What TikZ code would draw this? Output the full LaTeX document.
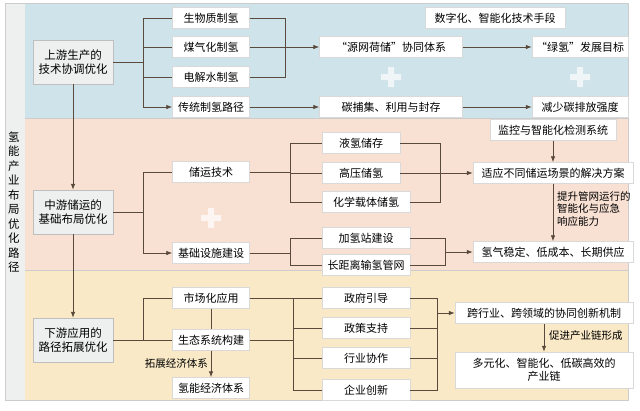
\documentclass[tikz,border=0pt]{standalone}
\usepackage{fontspec}
\setmainfont{Noto Sans CJK SC}
\usetikzlibrary{arrows.meta}
\definecolor{bandblue}{HTML}{CFE3EA}
\definecolor{bandpeach}{HTML}{F8E0D3}
\definecolor{bandyellow}{HTML}{F9E9C6}
\definecolor{leftgray}{HTML}{EEF0F0}
\definecolor{linebrown}{HTML}{5A4A3C}
\tikzset{
  box/.style={draw=white!85!black, fill=white, minimum height=21pt, inner sep=2pt, font=\fontsize{11}{13}\selectfont, align=center},
  main/.style={draw=gray!50, fill=leftgray, minimum width=80pt, minimum height=44pt, align=center, font=\fontsize{11.5}{14}\selectfont},
  ln/.style={draw=linebrown, thick},
  arr/.style={draw=linebrown, thick, -{Latex[length=6pt]}},
  lbl/.style={font=\fontsize{10.5}{12.5}\selectfont, align=left, inner sep=1pt}
}
\newcommand{\plus}[2]{\fill[white, opacity=0.7] (#1-10,#2-3) rectangle (#1+10,#2+3) (#1-3,#2-10) rectangle (#1+3,#2+10);}
\begin{document}
\begin{tikzpicture}[x=1pt, y=-1pt]
  \useasboundingbox (0,0) rectangle (640,410);
  % background bands
  \fill[white] (0,0) rectangle (640,410);
  \fill[leftgray] (5,3) rectangle (25,400);
  \fill[bandblue] (25,3) rectangle (628,118);
  \fill[bandpeach] (25,118) rectangle (628,270);
  \fill[bandyellow] (25,270) rectangle (628,400);
  \draw[gray!40] (5,3) rectangle (628,400);
  \draw[gray!40] (25,118) -- (628,118) (25,270) -- (628,270);
  \node[font=\fontsize{11.5}{14.5}\selectfont, align=center] (title) at (14,202) {氢\\能\\产\\业\\布\\局\\优\\化\\路\\径};

  % main stages
  \node[main] (up) at (73,62) {上游生产的\\技术协调优化};
  \node[main] (mid) at (73,212) {中游储运的\\基础布局优化};
  \node[main] (down) at (73,340) {下游应用的\\路径拓展优化};
  \path[arr] (up) -- (mid);
  \path[arr] (mid) -- (down);

  % upstream
  \node[box, minimum width=77pt] (bio) at (211,18) {生物质制氢};
  \node[box, minimum width=77pt] (coal) at (211,47) {煤气化制氢};
  \node[box, minimum width=77pt] (elec) at (211,77) {电解水制氢};
  \node[box, minimum width=77pt] (trad) at (211,107) {传统制氢路径};
  \node[box, minimum width=143pt] (grid) at (391,47) {“源网荷储”协同体系};
  \node[box, minimum width=143pt] (ccus) at (391,107) {碳捕集、利用与封存};
  \node[box, minimum width=140pt] (digi) at (495,18) {数字化、智能化技术手段};
  \node[box, minimum width=96pt] (green) at (580,47) {“绿氢”发展目标};
  \node[box, minimum width=96pt] (carb) at (580,107) {减少碳排放强度};
  \plus{391}{77}
  \plus{580}{77}
  \coordinate (ub) at (143,62);
  \path[ln] (up) -- (ub);
  \path[ln] (143,18) -- (143,107);
  \path[ln] (143,18) -- (bio) (143,47) -- (coal) (143,77) -- (elec);
  \path[arr] (143,107) -- (trad);
  \path[ln] (bio) -- (285,18) -- (285,77) -- (elec);
  \path[arr] (coal) -- (grid);
  \path[arr] (trad) -- (ccus);
  \path[arr] (grid) -- (green);
  \path[arr] (ccus) -- (carb);

  % midstream
  \node[box, minimum width=77pt] (tech) at (211,172) {储运技术};
  \node[box, minimum width=77pt] (infra) at (211,253) {基础设施建设};
  \plus{211}{218}
  \node[box, minimum width=78pt] (liq) at (361,143) {液氢储存};
  \node[box, minimum width=78pt] (hp) at (361,173) {高压储氢};
  \node[box, minimum width=88pt] (chem) at (366,202) {化学载体储氢};
  \node[box, minimum width=88pt] (sta) at (366,238) {加氢站建设};
  \node[box, minimum width=88pt] (pipe) at (366,265) {长距离输氢管网};
  \node[box, minimum width=126pt] (mon) at (553,130) {监控与智能化检测系统};
  \node[box, minimum width=160pt] (sol) at (553,173) {适应不同储运场景的解决方案};
  \node[box, minimum width=160pt] (sup) at (553,252) {氢气稳定、低成本、长期供应};
  \path[ln] (mid) -- (143,212);
  \path[ln] (143,172) -- (143,253);
  \path[ln] (143,172) -- (tech);
  \path[arr] (143,253) -- (infra);
  \path[ln] (tech) -- (290,172);
  \path[ln] (290,143) -- (290,202);
  \path[ln] (290,143) -- (liq) (290,173) -- (hp) (290,202) -- (chem);
  \path[ln] (liq) -- (440,143) -- (440,202) -- (chem);
  \path[ln] (hp) -- (440,173);
  \path[arr] (440,173) -- (sol);
  \path[arr] (mon) -- (sol);
  \path[ln] (infra) -- (290,253);
  \path[ln] (290,238) -- (290,265);
  \path[ln] (290,238) -- (sta) (290,265) -- (pipe);
  \path[ln] (sta) -- (445,238) -- (445,265) -- (pipe);
  \path[arr] (445,252) -- (sup);
  \path[arr] (sol) -- (sup);
  \node[lbl, anchor=north west] (lift) at (556,190) {提升管网运行的\\智能化与应急\\响应能力};

  % downstream
  \node[box, minimum width=77pt] (mkt) at (211,298) {市场化应用};
  \node[box, minimum width=77pt] (eco) at (211,340) {生态系统构建};
  \node[box, minimum width=77pt] (econ) at (211,388) {氢能经济体系};
  \node[box, minimum width=88pt] (gov) at (366,298) {政府引导};
  \node[box, minimum width=88pt] (pol) at (366,328) {政策支持};
  \node[box, minimum width=88pt] (ind) at (366,358) {行业协作};
  \node[box, minimum width=88pt] (ent) at (366,390) {企业创新};
  \node[box, minimum width=178pt] (cross) at (544,313) {跨行业、跨领域的协同创新机制};
  \node[box, minimum width=178pt, minimum height=36pt] (chain) at (544,370) {多元化、智能化、低碳高效的\\产业链};
  \path[ln] (down) -- (143,340);
  \path[ln] (143,298) -- (143,340);
  \path[ln] (143,298) -- (mkt);
  \path[ln] (143,340) -- (eco);
  \path[ln] (mkt) -- (eco);
  \path[arr] (eco) -- (econ);
  \node[lbl, anchor=east] (ext) at (209,363) {拓展经济体系};
  \path[ln] (mkt) -- (293,298);
  \path[ln] (eco) -- (293,340);
  \path[ln] (293,298) -- (293,390);
  \path[ln] (293,328) -- (pol) (293,358) -- (ind) (293,390) -- (ent);
  \path[ln] (293,298) -- (gov);
  \path[ln] (gov) -- (437,298) -- (437,390) -- (ent);
  \path[ln] (pol) -- (437,328) (ind) -- (437,358);
  \path[arr] (437,313) -- (cross);
  \path[arr] (cross) -- (chain);
  \node[lbl, anchor=west] (prom) at (548,336) {促进产业链形成};
\end{tikzpicture}
\end{document}
